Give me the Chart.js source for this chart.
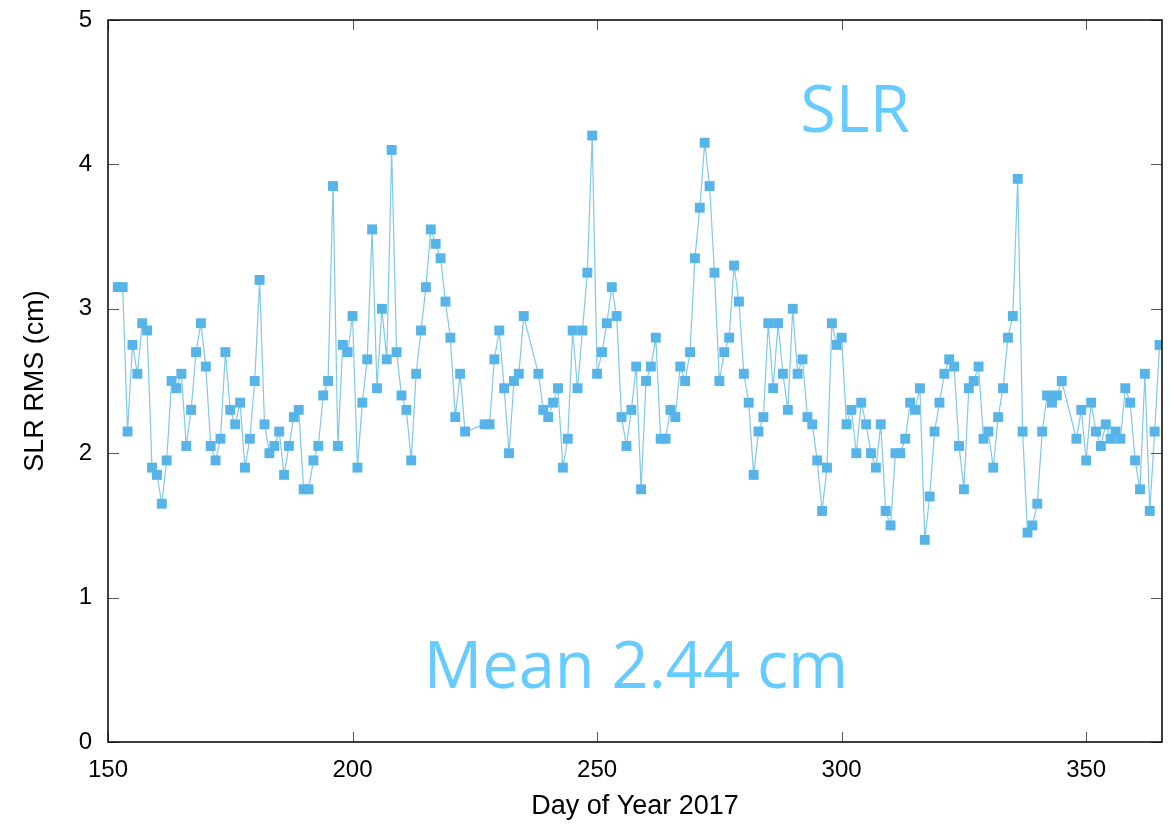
<!DOCTYPE html>
<html>
<head>
<meta charset="utf-8">
<title>SLR RMS</title>
<script src="https://cdn.jsdelivr.net/npm/chart.js@4.4.1/dist/chart.umd.min.js"></script>
<style>
    body { margin: 0; background: #ffffff; }
    canvas { display: block; }
</style>
</head>
<body>
<canvas id="slrChart" width="1175" height="824"></canvas>
<script>
// Dias com solução SLR (há lacunas em 224-226, 236-237 e 346-347)
const days = [
    152, 153, 154, 155, 156, 157, 158, 159, 160, 161, 162, 163, 164, 165, 166, 167, 168, 169, 170, 171,
    172, 173, 174, 175, 176, 177, 178, 179, 180, 181, 182, 183, 184, 185, 186, 187, 188, 189, 190, 191,
    192, 193, 194, 195, 196, 197, 198, 199, 200, 201, 202, 203, 204, 205, 206, 207, 208, 209, 210, 211,
    212, 213, 214, 215, 216, 217, 218, 219, 220, 221, 222, 223,
    227, 228, 229, 230, 231, 232, 233, 234, 235,
    238, 239, 240, 241, 242, 243, 244, 245, 246, 247, 248, 249, 250, 251, 252, 253, 254, 255, 256, 257,
    258, 259, 260, 261, 262, 263, 264, 265, 266, 267, 268, 269, 270, 271, 272, 273, 274, 275, 276, 277,
    278, 279, 280, 281, 282, 283, 284, 285, 286, 287, 288, 289, 290, 291, 292, 293, 294, 295, 296, 297,
    298, 299, 300, 301, 302, 303, 304, 305, 306, 307, 308, 309, 310, 311, 312, 313, 314, 315, 316, 317,
    318, 319, 320, 321, 322, 323, 324, 325, 326, 327, 328, 329, 330, 331, 332, 333, 334, 335, 336, 337,
    338, 339, 340, 341, 342, 343, 344, 345,
    348, 349, 350, 351, 352, 353, 354, 355, 356, 357, 358, 359, 360, 361, 362, 363, 364, 365
];

// RMS em cm
const rms = [
    3.15, 3.15, 2.15, 2.75, 2.55, 2.90, 2.85, 1.90, 1.85, 1.65, 1.95, 2.50, 2.45, 2.55, 2.05, 2.30, 2.70, 2.90, 2.60, 2.05,
    1.95, 2.10, 2.70, 2.30, 2.20, 2.35, 1.90, 2.10, 2.50, 3.20, 2.20, 2.00, 2.05, 2.15, 1.85, 2.05, 2.25, 2.30, 1.75, 1.75,
    1.95, 2.05, 2.40, 2.50, 3.85, 2.05, 2.75, 2.70, 2.95, 1.90, 2.35, 2.65, 3.55, 2.45, 3.00, 2.65, 4.10, 2.70, 2.40, 2.30,
    1.95, 2.55, 2.85, 3.15, 3.55, 3.45, 3.35, 3.05, 2.80, 2.25, 2.55, 2.15,
    2.20, 2.20, 2.65, 2.85, 2.45, 2.00, 2.50, 2.55, 2.95,
    2.55, 2.30, 2.25, 2.35, 2.45, 1.90, 2.10, 2.85, 2.45, 2.85, 3.25, 4.20, 2.55, 2.70, 2.90, 3.15, 2.95, 2.25, 2.05, 2.30,
    2.60, 1.75, 2.50, 2.60, 2.80, 2.10, 2.10, 2.30, 2.25, 2.60, 2.50, 2.70, 3.35, 3.70, 4.15, 3.85, 3.25, 2.50, 2.70, 2.80,
    3.30, 3.05, 2.55, 2.35, 1.85, 2.15, 2.25, 2.90, 2.45, 2.90, 2.55, 2.30, 3.00, 2.55, 2.65, 2.25, 2.20, 1.95, 1.60, 1.90,
    2.90, 2.75, 2.80, 2.20, 2.30, 2.00, 2.35, 2.20, 2.00, 1.90, 2.20, 1.60, 1.50, 2.00, 2.00, 2.10, 2.35, 2.30, 2.45, 1.40,
    1.70, 2.15, 2.35, 2.55, 2.65, 2.60, 2.05, 1.75, 2.45, 2.50, 2.60, 2.10, 2.15, 1.90, 2.25, 2.45, 2.80, 2.95, 3.90, 2.15,
    1.45, 1.50, 1.65, 2.15, 2.40, 2.35, 2.40, 2.50,
    2.10, 2.30, 1.95, 2.35, 2.15, 2.05, 2.20, 2.10, 2.15, 2.10, 2.45, 2.35, 1.95, 1.75, 2.55, 1.60, 2.15, 2.75
];

const xTicks = [150, 200, 250, 300, 350];
const yTicks = [0, 1, 2, 3, 4, 5];

const labelSLR = 'SLR';
const labelMean = 'Mean 2.44 cm';

const points = days.map((d, i) => ({ x: d, y: rms[i] }));

// moldura + ticks para dentro, estilo gnuplot
const framePlugin = {
    id: 'frame',
    afterDraw(chart) {
        const ctx = chart.ctx;
        const area = chart.chartArea;
        const xs = chart.scales.x;
        const ys = chart.scales.y;

        ctx.save();
        ctx.strokeStyle = '#555555';
        ctx.lineWidth = 1;
        ctx.beginPath();
        xTicks.forEach(v => {
            const px = Math.round(xs.getPixelForValue(v)) + 0.5;
            ctx.moveTo(px, area.bottom);
            ctx.lineTo(px, area.bottom - 10);
            ctx.moveTo(px, area.top);
            ctx.lineTo(px, area.top + 10);
        });
        yTicks.forEach(v => {
            const py = Math.round(ys.getPixelForValue(v)) + 0.5;
            ctx.moveTo(area.left, py);
            ctx.lineTo(area.left + 11, py);
            ctx.moveTo(area.right, py);
            ctx.lineTo(area.right - 11, py);
        });
        ctx.stroke();

        ctx.strokeStyle = '#000000';
        ctx.lineWidth = 1.5;
        ctx.strokeRect(area.left, area.top, area.right - area.left, area.bottom - area.top);

        // textos
        ctx.fillStyle = '#66ccff';
        ctx.font = '65px "Open Sans"';
        ctx.textAlign = 'center';
        ctx.textBaseline = 'alphabetic';
        ctx.fillText(labelSLR, 855, 132);
        ctx.fillText(labelMean, 636, 688);
        ctx.restore();
    }
};

const ctx = document.getElementById('slrChart').getContext('2d');
const slrChart = new Chart(ctx, {
    type: 'line',
    data: {
        datasets: [{
            label: 'SLR RMS',
            data: points,
            borderColor: '#7fc8ee',
            borderWidth: 1.2,
            backgroundColor: '#56b4e9',
            pointStyle: 'rect',
            pointRadius: 7,
            pointBorderWidth: 0,
            pointBackgroundColor: '#56b4e9',
            tension: 0,
            fill: false
        }]
    },
    options: {
        responsive: false,
        animation: false,
        layout: {
            padding: { top: 20, right: 13, left: 0, bottom: 0 }
        },
        plugins: {
            legend: { display: false },
            tooltip: { enabled: false }
        },
        scales: {
            x: {
                type: 'linear',
                min: 150,
                max: 365.5,
                afterFit: (scale) => { scale.height = 82; },
                grid: { display: false, drawTicks: false },
                border: { display: false },
                ticks: {
                    stepSize: 50,
                    includeBounds: false,
                    padding: 14,
                    color: '#000000',
                    font: { family: '"Liberation Sans", Arial, sans-serif', size: 24 },
                    maxRotation: 0
                },
                title: {
                    display: true,
                    text: 'Day of Year 2017',
                    color: '#000000',
                    padding: { top: 0, bottom: 1 },
                    font: { family: '"Liberation Sans", Arial, sans-serif', size: 27 }
                }
            },
            y: {
                min: 0,
                max: 5,
                afterFit: (scale) => {
                    scale.width = 108;
                    scale.paddingTop = 0;
                    scale.paddingBottom = 0;
                },
                grid: { display: false, drawTicks: false },
                border: { display: false },
                ticks: {
                    stepSize: 1,
                    padding: 16,
                    color: '#000000',
                    font: { family: '"Liberation Sans", Arial, sans-serif', size: 24 }
                },
                title: {
                    display: true,
                    text: 'SLR RMS (cm)',
                    color: '#000000',
                    padding: { top: 19, bottom: 0 },
                    font: { family: '"Liberation Sans", Arial, sans-serif', size: 27 }
                }
            }
        }
    },
    plugins: [framePlugin]
});
</script>
</body>
</html>
